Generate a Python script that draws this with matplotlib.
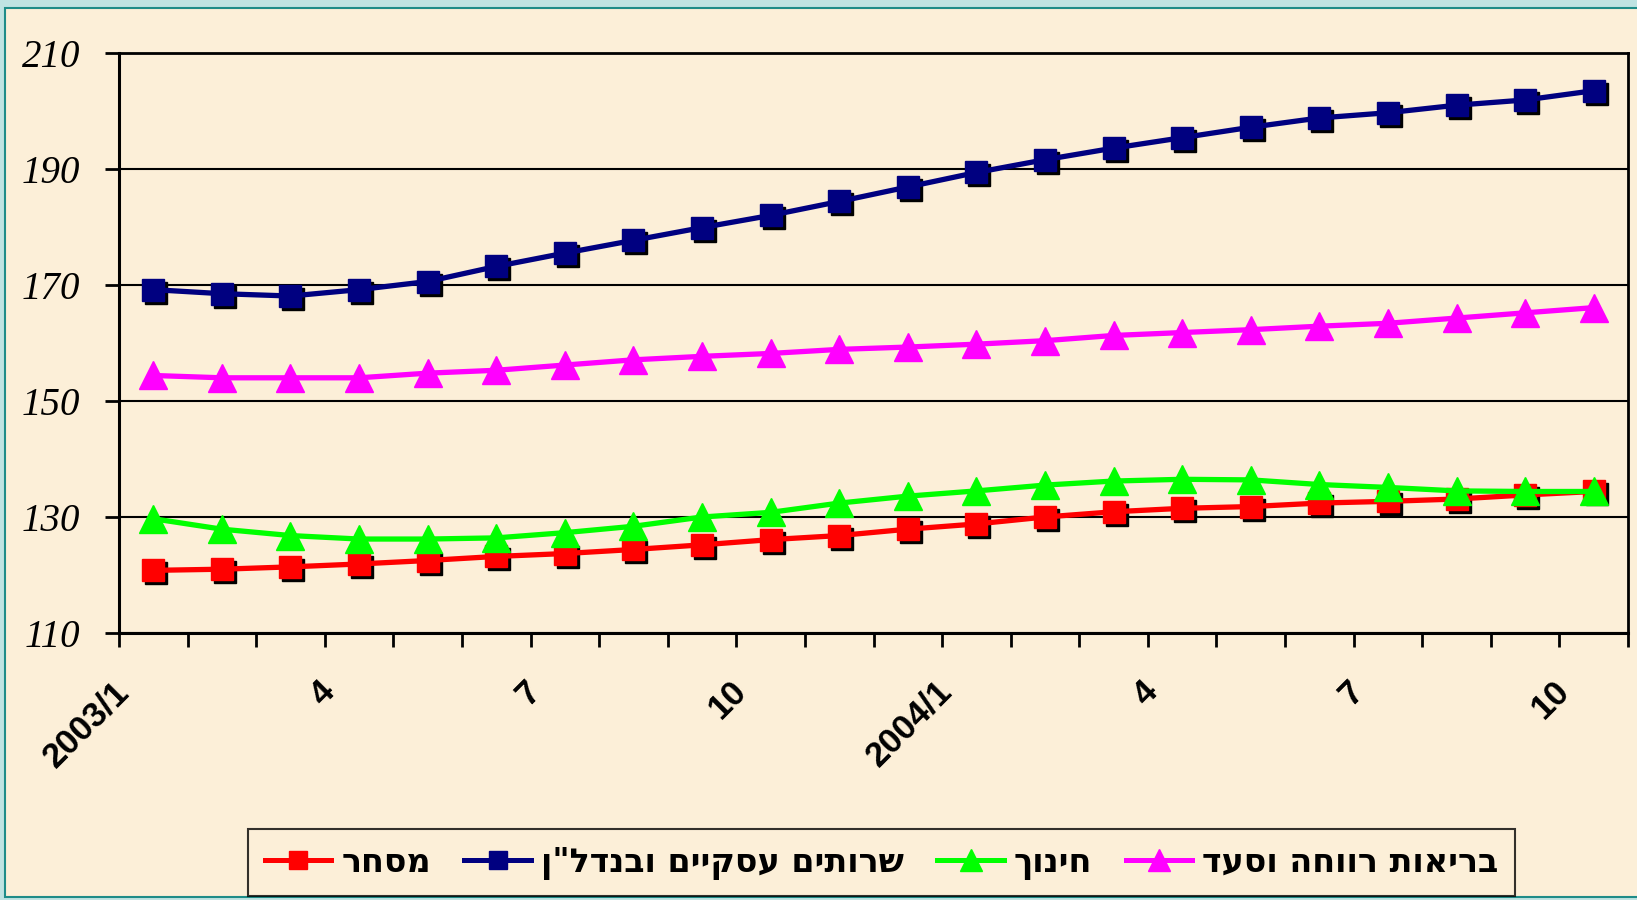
import matplotlib
matplotlib.use("Agg")
import matplotlib.pyplot as plt
import matplotlib.transforms as mtrans
from matplotlib.patches import Rectangle
from matplotlib.lines import Line2D

# ---------------- data ----------------
tick_labels = ['2003/1', '4', '7', '10', '2004/1', '4', '7', '10']
n_months = 22
trade = [120.8, 121.0, 121.4, 121.9, 122.5, 123.2, 123.7, 124.4, 125.2, 126.1, 126.8,
         127.9, 128.8, 130.0, 130.9, 131.5, 131.8, 132.4, 132.7, 133.1, 133.8, 134.4]
business = [169.2, 168.5, 168.1, 169.2, 170.6, 173.2, 175.5, 177.7, 179.9, 182.0, 184.4,
            186.9, 189.4, 191.6, 193.6, 195.4, 197.2, 198.8, 199.7, 201.0, 201.9, 203.5]
education = [129.7, 127.9, 126.8, 126.2, 126.2, 126.4, 127.3, 128.4, 130.0, 130.8, 132.4,
             133.6, 134.5, 135.5, 136.2, 136.5, 136.4, 135.6, 135.1, 134.5, 134.4, 134.4]
welfare = [154.4, 154.0, 154.0, 154.0, 154.8, 155.3, 156.2, 157.1, 157.7, 158.2, 158.9,
           159.3, 159.8, 160.4, 161.3, 161.8, 162.3, 162.9, 163.4, 164.3, 165.2, 166.1]
series_names = ['מסחר', 'שרותים עסקיים ובנדל"ן', 'חינוך', 'בריאות רווחה וסעד']
series_colors = ['#FF0000', '#000080', '#00FF00', '#FF00FF']
series_markers = ['s', 's', '^', '^']


def rtl(s):
    # matplotlib has no bidi support: reverse Hebrew for visual order
    return s[::-1]


heb_font = ['DejaVu Sans', 'Liberation Sans']

fig = plt.figure(figsize=(16.37, 9.0), dpi=100)
W, H = 1637, 900
fig.patch.set_facecolor('#BFE3E2')
# parchment panel
fig.patches.append(Rectangle((5 / W, 3 / H), 1.01 - 5 / W, 1 - 11 / H, transform=fig.transFigure,
                             facecolor='#FCEFD8', edgecolor='#1E8C88', linewidth=1.5, zorder=-5))

ax = fig.add_axes([119 / W, 1 - 633 / H, (1628 - 119) / W, (633 - 53) / H])
ax.set_facecolor('none')

x = list(range(n_months))
data = [trade, business, education, welfare]
shadow = mtrans.offset_copy(ax.transData, fig=fig, x=3, y=-3, units='dots')

for vals, col, mk in zip(data, series_colors, series_markers):
    ms = 15.5 if mk == 's' else 19.5
    if mk == 's':
        ax.plot(x, vals, linestyle='none', marker=mk, markersize=ms, color='black',
                transform=shadow, zorder=3)
    ax.plot(x, vals, color=col, linewidth=3.8, marker=mk, markersize=ms,
            markeredgecolor=col, zorder=4, solid_joinstyle='round')

ax.set_xlim(-0.5, n_months - 0.5)
ax.set_ylim(110, 210)
ax.set_yticks([110, 130, 150, 170, 190, 210])
ax.set_yticklabels(['110', '130', '150', '170', '190', '210'],
                   family=['Liberation Serif', 'DejaVu Serif'], style='italic', fontsize=28)
ax.tick_params(axis='y', direction='out', length=10, width=2, pad=18, colors='black')
ax.yaxis.grid(True, color='black', linewidth=1.5)
ax.set_axisbelow(True)

label_pos = list(range(0, n_months, 3))
ax.set_xticks(label_pos)
ax.set_xticklabels(tick_labels, rotation=45, ha='right', va='top',
                   family=['Liberation Sans', 'DejaVu Sans'], fontweight='bold', fontsize=25)
ax.tick_params(axis='x', which='major', length=0, pad=30)
ax.set_xticks([i - 0.5 for i in range(n_months + 1)], minor=True)
ax.tick_params(axis='x', which='minor', direction='out', length=10, width=2, colors='black')
off = mtrans.ScaledTranslation(-0.18, 0, fig.dpi_scale_trans)
for lab in ax.get_xticklabels():
    lab.set_transform(lab.get_transform() + off)

for side in ['left', 'bottom']:
    ax.spines[side].set_linewidth(2.2)
for side in ['top', 'right']:
    ax.spines[side].set_linewidth(2.0)

handles = [Line2D([], [], color=c, marker=m, markersize=(13 if m == 's' else 16), linewidth=3.6)
           for c, m in zip(series_colors, series_markers)]
leg = fig.legend(handles, [rtl(s) for s in series_names], loc='upper left',
                 bbox_to_anchor=(248 / W, 1 - 829 / H), ncol=4, frameon=True,
                 prop={'family': heb_font, 'weight': 'bold', 'size': 24},
                 handlelength=2.0, handletextpad=0.3, columnspacing=1.0,
                 borderpad=0.5, borderaxespad=0, fancybox=False)
leg.get_frame().set_edgecolor('black')
leg.get_frame().set_linewidth(1.5)
leg.get_frame().set_facecolor('none')

fig.savefig('out.png', dpi=100, facecolor=fig.get_facecolor())
